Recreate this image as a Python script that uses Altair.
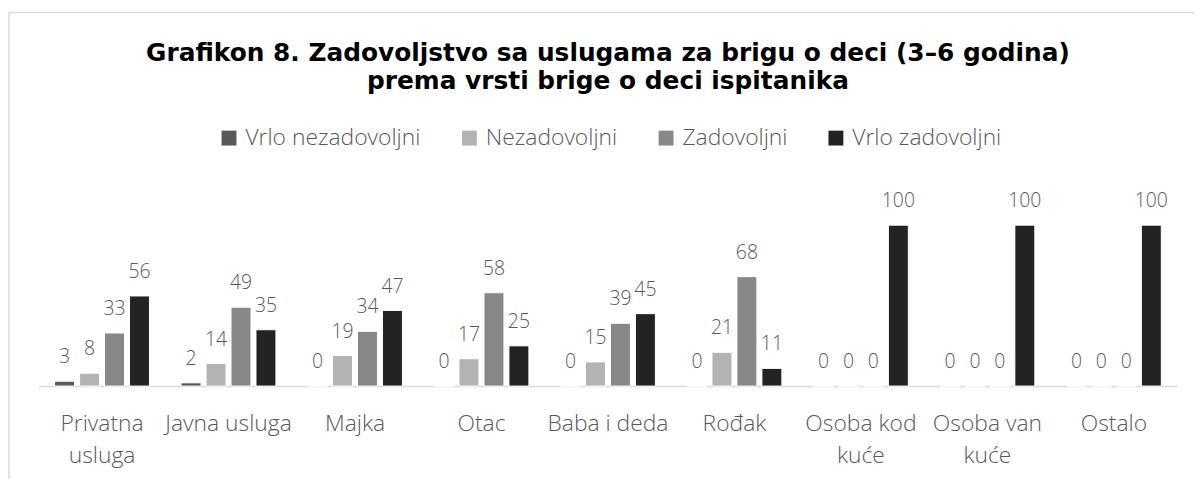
import altair as alt
import pandas as pd

categories = ["Privatna usluga", "Javna usluga", "Majka", "Otac", "Baba i deda",
              "Rođak", "Osoba kod kuće", "Osoba van kuće", "Ostalo"]
series = ["Vrlo nezadovoljni", "Nezadovoljni", "Zadovoljni", "Vrlo zadovoljni"]
vrlo_nezadovoljni = [3, 2, 0, 0, 0, 0, 0, 0, 0]
nezadovoljni = [8, 14, 19, 17, 15, 21, 0, 0, 0]
zadovoljni = [33, 49, 34, 58, 39, 68, 0, 0, 0]
vrlo_zadovoljni = [56, 35, 47, 25, 45, 11, 100, 100, 100]
colors = ["#595959", "#b3b3b3", "#878787", "#232323"]
multiline = {"Privatna usluga": ["Privatna", "usluga"],
             "Osoba kod kuće": ["Osoba kod", "kuće"],
             "Osoba van kuće": ["Osoba van", "kuće"]}
title_lines = ["Grafikon 8. Zadovoljstvo sa uslugama za brigu o deci (3–6 godina)",
               "prema vrsti brige o deci ispitanika"]

rows = []
for s, vals in zip(series, [vrlo_nezadovoljni, nezadovoljni, zadovoljni, vrlo_zadovoljni]):
    for c, v in zip(categories, vals):
        rows.append({"Kategorija": c, "Serija": s, "Vrednost": v})
df = pd.DataFrame(rows)

label_expr = ""
for k, lines in multiline.items():
    arr = "[" + ", ".join("'" + l + "'" for l in lines) + "]"
    label_expr += f"datum.value == '{k}' ? {arr} : "
label_expr += "datum.value"

W, H = 1146, 194.4
PAD = {"left": 31, "top": 184.6, "right": 17, "bottom": 100}
FONT = "Open Sans"
GREY = "#595959"

base = alt.Chart(df).encode(
    x=alt.X("Kategorija:N", sort=categories,
            scale=alt.Scale(paddingInner=0.25, paddingOuter=0.125),
            axis=alt.Axis(title=None, labelAngle=0, labelExpr=label_expr,
                          labelFont=FONT, labelFontSize=23, labelFontWeight=300,
                          labelColor=GREY,
                          labelPadding=27, labelLineHeight=32, ticks=False,
                          domainColor="#d9d9d9", domainWidth=1.5, labelLimit=300)),
    xOffset=alt.XOffset("Serija:N", sort=series,
                        scale=alt.Scale(paddingInner=0.2, paddingOuter=0)),
    y=alt.Y("Vrednost:Q", scale=alt.Scale(domain=[0, 120]), axis=None),
)

bars = base.mark_bar(stroke="#ffffff", strokeWidth=1).encode(
    color=alt.Color("Serija:N", sort=series,
                    scale=alt.Scale(domain=series, range=colors),
                    legend=alt.Legend(orient="none", legendX=180, legendY=-67,
                                      direction="horizontal", title=None,
                                      symbolType="square", symbolSize=225,
                                      symbolStrokeWidth=0, labelFont=FONT,
                                      labelFontSize=23, labelFontWeight=300,
                                      labelColor=GREY, labelLimit=400,
                                      columnPadding=37, labelOffset=5))
)

labels = base.mark_text(baseline="bottom", dy=-14, font=FONT, fontSize=19.5,
                        fontWeight=300, color=GREY).encode(text="Vrednost:Q")

border_v = alt.Chart(alt.Data(values=[{}])).mark_rule(
    color="#d9d9d9", strokeWidth=1.5).encode(
    x=alt.value(-30), y=alt.value(-181.6), y2=alt.value(H + PAD["bottom"]))
border_h = alt.Chart(alt.Data(values=[{}])).mark_rule(
    color="#d9d9d9", strokeWidth=1.5).encode(
    x=alt.value(-30), x2=alt.value(W + PAD["right"]), y=alt.value(-181.6))

chart = alt.layer(bars, labels, border_v, border_h).properties(
    width=W, height=H,
    autosize=alt.AutoSizeParams(type="none"),
    padding=PAD,
    title=alt.Title(title_lines, font="DejaVu Sans", fontWeight="bold", fontSize=25,
                    color="#000000", anchor="middle", frame="group",
                    baseline="top", lineHeight=29, offset=-83),
).configure_view(stroke=None)

chart.save("out.html", embed_options={"renderer": "svg", "actions": False})
